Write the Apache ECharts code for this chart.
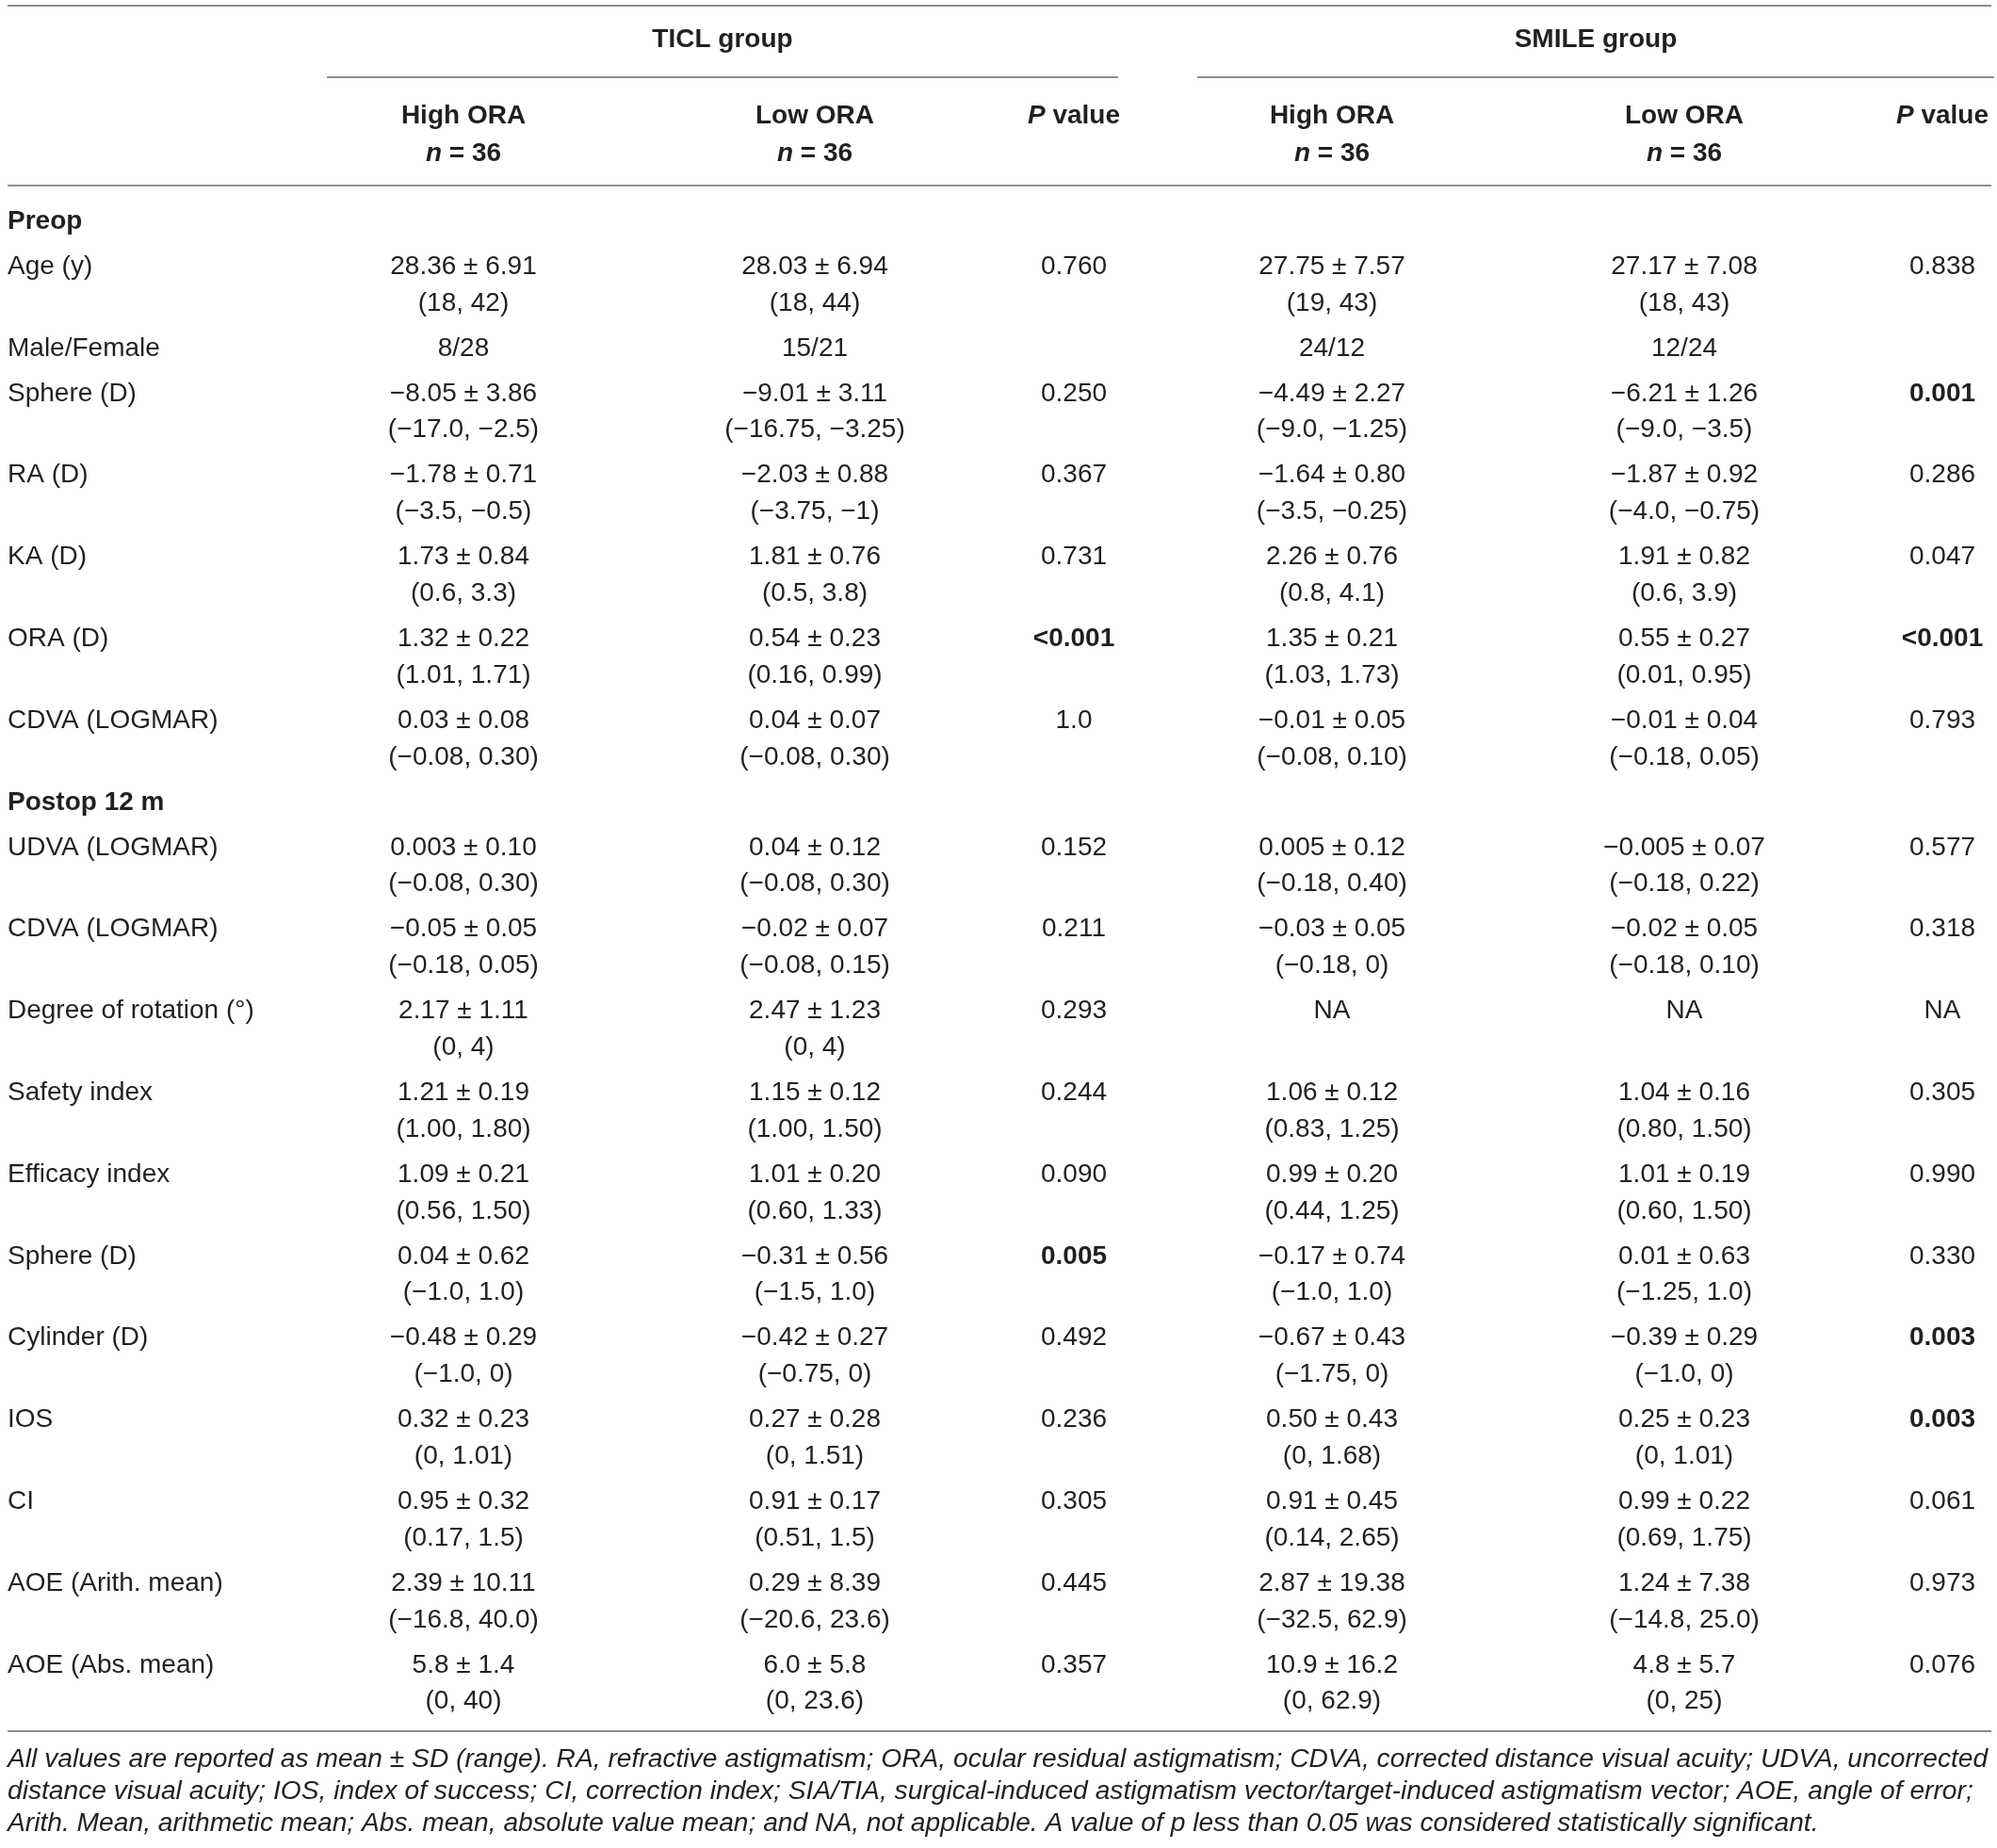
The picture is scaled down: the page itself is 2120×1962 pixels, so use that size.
<!DOCTYPE html>
<html>
<head>
<meta charset="utf-8">
<script src="https://cdn.jsdelivr.net/npm/echarts@6/dist/echarts.min.js"></script>
<style>
html, body { margin: 0; padding: 0; background: #fff; }
#main { width: 2120px; height: 1962px; }
</style>
</head>
<body>
<div id="main"></div>
<script>
// table content
const groups = ['TICL group', 'SMILE group']
const colHeads = ['High ORA', 'Low ORA', 'P value', 'High ORA', 'Low ORA', 'P value']
const colN = ['36', '36', '', '36', '36', '']
const sectionRows = ['Preop', 'Postop 12 m']
const rowLabels = ['Preop', 'Age (y)', 'Male/Female', 'Sphere (D)', 'RA (D)', 'KA (D)', 'ORA (D)', 'CDVA (LOGMAR)',
	'Postop 12 m', 'UDVA (LOGMAR)', 'CDVA (LOGMAR)', 'Degree of rotation (°)', 'Safety index', 'Efficacy index',
	'Sphere (D)', 'Cylinder (D)', 'IOS', 'CI', 'AOE (Arith. mean)', 'AOE (Abs. mean)']
const ticlHigh = ['', '28.36 ± 6.91\n(18, 42)', '8/28', '−8.05 ± 3.86\n(−17.0, −2.5)', '−1.78 ± 0.71\n(−3.5, −0.5)',
	'1.73 ± 0.84\n(0.6, 3.3)', '1.32 ± 0.22\n(1.01, 1.71)', '0.03 ± 0.08\n(−0.08, 0.30)',
	'', '0.003 ± 0.10\n(−0.08, 0.30)', '−0.05 ± 0.05\n(−0.18, 0.05)', '2.17 ± 1.11\n(0, 4)', '1.21 ± 0.19\n(1.00, 1.80)',
	'1.09 ± 0.21\n(0.56, 1.50)', '0.04 ± 0.62\n(−1.0, 1.0)', '−0.48 ± 0.29\n(−1.0, 0)', '0.32 ± 0.23\n(0, 1.01)',
	'0.95 ± 0.32\n(0.17, 1.5)', '2.39 ± 10.11\n(−16.8, 40.0)', '5.8 ± 1.4\n(0, 40)']
const ticlLow = ['', '28.03 ± 6.94\n(18, 44)', '15/21', '−9.01 ± 3.11\n(−16.75, −3.25)', '−2.03 ± 0.88\n(−3.75, −1)',
	'1.81 ± 0.76\n(0.5, 3.8)', '0.54 ± 0.23\n(0.16, 0.99)', '0.04 ± 0.07\n(−0.08, 0.30)',
	'', '0.04 ± 0.12\n(−0.08, 0.30)', '−0.02 ± 0.07\n(−0.08, 0.15)', '2.47 ± 1.23\n(0, 4)', '1.15 ± 0.12\n(1.00, 1.50)',
	'1.01 ± 0.20\n(0.60, 1.33)', '−0.31 ± 0.56\n(−1.5, 1.0)', '−0.42 ± 0.27\n(−0.75, 0)', '0.27 ± 0.28\n(0, 1.51)',
	'0.91 ± 0.17\n(0.51, 1.5)', '0.29 ± 8.39\n(−20.6, 23.6)', '6.0 ± 5.8\n(0, 23.6)']
const ticlP = ['', '0.760', '', '0.250', '0.367', '0.731', '<0.001', '1.0',
	'', '0.152', '0.211', '0.293', '0.244', '0.090', '0.005', '0.492', '0.236', '0.305', '0.445', '0.357']
const smileHigh = ['', '27.75 ± 7.57\n(19, 43)', '24/12', '−4.49 ± 2.27\n(−9.0, −1.25)', '−1.64 ± 0.80\n(−3.5, −0.25)',
	'2.26 ± 0.76\n(0.8, 4.1)', '1.35 ± 0.21\n(1.03, 1.73)', '−0.01 ± 0.05\n(−0.08, 0.10)',
	'', '0.005 ± 0.12\n(−0.18, 0.40)', '−0.03 ± 0.05\n(−0.18, 0)', 'NA', '1.06 ± 0.12\n(0.83, 1.25)',
	'0.99 ± 0.20\n(0.44, 1.25)', '−0.17 ± 0.74\n(−1.0, 1.0)', '−0.67 ± 0.43\n(−1.75, 0)', '0.50 ± 0.43\n(0, 1.68)',
	'0.91 ± 0.45\n(0.14, 2.65)', '2.87 ± 19.38\n(−32.5, 62.9)', '10.9 ± 16.2\n(0, 62.9)']
const smileLow = ['', '27.17 ± 7.08\n(18, 43)', '12/24', '−6.21 ± 1.26\n(−9.0, −3.5)', '−1.87 ± 0.92\n(−4.0, −0.75)',
	'1.91 ± 0.82\n(0.6, 3.9)', '0.55 ± 0.27\n(0.01, 0.95)', '−0.01 ± 0.04\n(−0.18, 0.05)',
	'', '−0.005 ± 0.07\n(−0.18, 0.22)', '−0.02 ± 0.05\n(−0.18, 0.10)', 'NA', '1.04 ± 0.16\n(0.80, 1.50)',
	'1.01 ± 0.19\n(0.60, 1.50)', '0.01 ± 0.63\n(−1.25, 1.0)', '−0.39 ± 0.29\n(−1.0, 0)', '0.25 ± 0.23\n(0, 1.01)',
	'0.99 ± 0.22\n(0.69, 1.75)', '1.24 ± 7.38\n(−14.8, 25.0)', '4.8 ± 5.7\n(0, 25)']
const smileP = ['', '0.838', '', '0.001', '0.286', '0.047', '<0.001', '0.793',
	'', '0.577', '0.318', 'NA', '0.305', '0.990', '0.330', '0.003', '0.003', '0.061', '0.973', '0.076']
// bold (significant) p values, by row
const ticlSig = [6, 14]
const smileSig = [3, 6, 15, 16]
const notes = [
	'All values are reported as mean ± SD (range). RA, refractive astigmatism; ORA, ocular residual astigmatism; CDVA, corrected distance visual acuity; UDVA, uncorrected',
	'distance visual acuity; IOS, index of success; CI, correction index; SIA/TIA, surgical-induced astigmatism vector/target-induced astigmatism vector; AOE, angle of error;',
	'Arith. Mean, arithmetic mean; Abs. mean, absolute value mean; and NA, not applicable. A value of p less than 0.05 was considered statistically significant.'
]

// layout
const W = 2120, H = 1962
const FF = '"Liberation Sans", Arial, sans-serif'
const FS = 28
const INK = '#231f20'
const colX = [492, 865, 1140, 1414, 1788, 2062]
const groupSpan = [[347, 1187], [1271, 2117]]
const lineStep = 38.8, rowGap = 9.2

var cells = []
var rules = []

function addText(x, y, text, kind, align) {
	cells.push({ x: x, y: y, text: text, kind: kind, align: align || 'center' })
}

// header
rules.push([8, 2114, 6])
groups.forEach(function (g, i) {
	addText((groupSpan[i][0] + groupSpan[i][1]) / 2, 42, g, 'head')
	rules.push([groupSpan[i][0], groupSpan[i][1], 82])
})
colHeads.forEach(function (h, i) {
	if (h == 'P value') {
		addText(colX[i], 123, '{pi|P}{pb| value}', 'rich')
	} else {
		addText(colX[i], 123, h, 'head')
		addText(colX[i], 163, '{pi|n}{pb| = ' + colN[i] + '}', 'rich')
	}
})
rules.push([8, 2114, 197])

// body
const columns = [ticlHigh, ticlLow, ticlP, smileHigh, smileLow, smileP]
var y = 235
rowLabels.forEach(function (lab, r) {
	if (sectionRows.indexOf(lab) >= 0) {
		addText(8, y, lab, 'head', 'left')
		y += lineStep + rowGap
		return
	}
	addText(8, y, lab, 'cell', 'left')
	var nLines = 1
	columns.forEach(function (col, c) {
		var lines = col[r].split('\n')
		nLines = Math.max(nLines, lines.length)
		var bold = (c == 2 && ticlSig.indexOf(r) >= 0) || (c == 5 && smileSig.indexOf(r) >= 0)
		lines.forEach(function (t, k) {
			if (t) addText(colX[c], y + k * lineStep, t, bold ? 'head' : 'cell')
		})
	})
	y += nLines * lineStep + rowGap
})
rules.push([8, 2114, 1838])

notes.forEach(function (n, i) {
	addText(8, 1868 + i * 34, n, 'note', 'left')
})

const styles = {
	cell: { fontSize: FS, fontWeight: 'normal', fontStyle: 'normal' },
	head: { fontSize: FS, fontWeight: 'bold', fontStyle: 'normal' },
	rich: { fontSize: FS, fontWeight: 'bold', fontStyle: 'normal' },
	note: { fontSize: 28.2, fontWeight: 'normal', fontStyle: 'italic' }
}

const chart = echarts.init(document.getElementById('main'), null, { renderer: 'canvas' })
chart.setOption({
	animation: false,
	backgroundColor: '#fff',
	grid: { left: 0, right: 0, top: 0, bottom: 0 },
	xAxis: { type: 'value', min: 0, max: W, show: false },
	yAxis: { type: 'value', min: 0, max: H, inverse: true, show: false },
	series: [{
		type: 'custom',
		clip: false,
		data: rules,
		renderItem: function (params, api) {
			var p1 = api.coord([api.value(0), api.value(2)])
			var p2 = api.coord([api.value(1), api.value(2)])
			return {
				type: 'line',
				shape: { x1: p1[0], y1: p1[1], x2: p2[0], y2: p2[1] },
				style: { stroke: '#8e8e8e', lineWidth: 2 }
			}
		}
	}, {
		type: 'custom',
		clip: false,
		data: cells.map(function (c) { return [c.x, c.y] }),
		renderItem: function (params, api) {
			var c = cells[params.dataIndex]
			var p = api.coord([api.value(0), api.value(1)])
			var s = styles[c.kind]
			return {
				type: 'text',
				x: p[0],
				y: p[1],
				style: {
					text: c.text,
					fill: INK,
					fontFamily: FF,
					fontSize: s.fontSize,
					fontWeight: s.fontWeight,
					fontStyle: s.fontStyle,
					align: c.align,
					verticalAlign: 'middle',
					rich: {
						pi: { fontFamily: FF, fontSize: FS, fontWeight: 'bold', fontStyle: 'italic', fill: INK },
						pb: { fontFamily: FF, fontSize: FS, fontWeight: 'bold', fontStyle: 'normal', fill: INK }
					}
				}
			}
		}
	}]
})
</script>
</body>
</html>
